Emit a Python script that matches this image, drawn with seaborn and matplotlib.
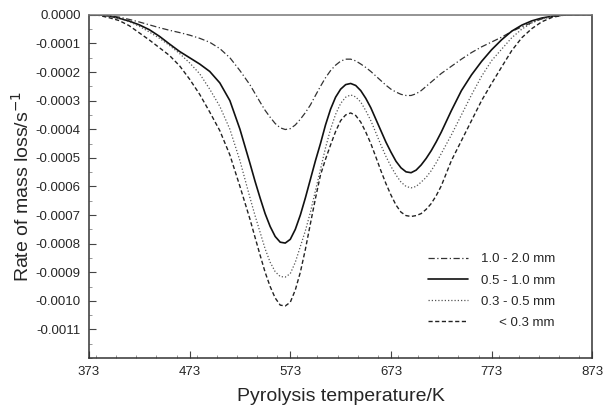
import numpy as np
import pandas as pd
import matplotlib
matplotlib.use("Agg")
import matplotlib.pyplot as plt
import seaborn as sns
from matplotlib.ticker import MultipleLocator, FuncFormatter

# ---- data (rate values in units of 1e-4 s^-1) ----
temperature = [373, 383, 393, 403, 413, 423, 433, 443, 453, 463,
               473, 483, 493, 503, 513, 523,
               533, 538, 543, 548, 553, 558, 563, 568, 573, 578,
               583, 588, 593, 598, 603, 608, 613, 618, 623, 628,
               633, 638, 643, 648, 653, 658, 663, 668, 673, 678,
               683, 688, 693, 698, 703, 708, 713, 718, 723,
               733, 743, 753, 763, 773, 783, 793, 803, 813, 823,
               833, 843, 853, 863, 873]

size_labels = ["1.0 - 2.0 mm", "0.5 - 1.0 mm", "0.3 - 0.5 mm", "< 0.3 mm"]

rate_1_0_2_0 = [0, 0, -0.03, -0.08, -0.16, -0.25, -0.35, -0.45, -0.54, -0.62,
                -0.71, -0.82, -0.96, -1.18, -1.50, -1.95,
                -2.45, -2.75, -3.05, -3.34, -3.58, -3.80, -3.95, -4.01, -3.98, -3.85,
                -3.65, -3.42, -3.15, -2.82, -2.50, -2.20, -1.95, -1.76, -1.62, -1.55,
                -1.55, -1.61, -1.72, -1.84, -1.98, -2.14, -2.30, -2.46, -2.60, -2.70,
                -2.78, -2.82, -2.82, -2.76, -2.65, -2.50, -2.35, -2.20, -2.05,
                -1.80, -1.55, -1.32, -1.12, -0.95, -0.78, -0.58, -0.42, -0.27, -0.14,
                -0.06, -0.01, 0, 0, 0]

rate_0_5_1_0 = [0, 0, -0.04, -0.12, -0.22, -0.35, -0.52, -0.75, -1.02, -1.28,
                -1.50, -1.72, -1.98, -2.38, -3.00, -4.00,
                -5.20, -5.82, -6.40, -6.95, -7.40, -7.75, -7.95, -7.98, -7.85, -7.50,
                -7.00, -6.40, -5.75, -5.10, -4.50, -3.85, -3.30, -2.88, -2.60, -2.44,
                -2.40, -2.47, -2.65, -2.92, -3.25, -3.65, -4.05, -4.45, -4.80, -5.12,
                -5.35, -5.49, -5.52, -5.43, -5.25, -5.02, -4.75, -4.44, -4.10,
                -3.35, -2.65, -2.10, -1.63, -1.22, -0.87, -0.57, -0.36, -0.21, -0.11,
                -0.05, -0.01, 0, 0, 0]

rate_0_3_0_5 = [0, 0, -0.05, -0.13, -0.24, -0.40, -0.60, -0.82, -1.07, -1.35,
                -1.68, -2.06, -2.60, -3.20, -4.00, -5.10,
                -6.40, -7.02, -7.60, -8.18, -8.65, -8.98, -9.15, -9.17, -9.05, -8.65,
                -8.10, -7.55, -6.90, -6.15, -5.40, -4.65, -4.00, -3.48, -3.10, -2.88,
                -2.80, -2.87, -3.05, -3.35, -3.70, -4.12, -4.55, -4.95, -5.30, -5.60,
                -5.85, -6.00, -6.05, -6.00, -5.85, -5.68, -5.45, -5.17, -4.85,
                -4.20, -3.50, -2.80, -2.15, -1.60, -1.20, -0.80, -0.50, -0.28, -0.14,
                -0.06, -0.02, 0, 0, 0]

rate_lt_0_3 = [0, -0.02, -0.10, -0.20, -0.38, -0.63, -0.88, -1.15, -1.42, -1.78,
               -2.25, -2.78, -3.40, -4.05, -4.90, -6.00,
               -7.15, -7.78, -8.40, -9.00, -9.50, -9.90, -10.15, -10.18, -10.05, -9.62,
               -9.00, -8.20, -7.30, -6.42, -5.60, -5.05, -4.55, -4.08, -3.70, -3.50,
               -3.43, -3.52, -3.75, -4.10, -4.50, -4.97, -5.45, -5.90, -6.30, -6.65,
               -6.90, -7.02, -7.05, -7.02, -6.95, -6.80, -6.60, -6.32, -5.98,
               -5.10, -4.40, -3.70, -3.00, -2.40, -1.82, -1.25, -0.80, -0.48, -0.24,
               -0.09, -0.02, 0, 0, 0]

x_ticks = [373, 473, 573, 673, 773, 873]

# ---- long-form table ----
series = [rate_1_0_2_0, rate_0_5_1_0, rate_0_3_0_5, rate_lt_0_3]
frames = []
for lab, vals in zip(size_labels, series):
    frames.append(pd.DataFrame({"T": temperature,
                                "rate": np.array(vals) * 1e-4,
                                "size": lab}))
df = pd.concat(frames, ignore_index=True)

sns.set_style("ticks")
plt.rcParams["font.family"] = ["Liberation Sans", "DejaVu Sans"]

fig = plt.figure(figsize=(6.05, 4.12), dpi=100)
ax = fig.add_axes([0.147, 0.131, 0.832, 0.833])

palette = {size_labels[0]: "#333333", size_labels[1]: "#111111",
           size_labels[2]: "#555555", size_labels[3]: "#222222"}
dashes = {size_labels[0]: (5, 2, 1, 2),
          size_labels[1]: "",
          size_labels[2]: (1, 1.6),
          size_labels[3]: (3, 1.8)}
widths = {size_labels[0]: 0.9, size_labels[1]: 1.2,
          size_labels[2]: 0.9, size_labels[3]: 1.0}

sns.lineplot(data=df, x="T", y="rate", hue="size", style="size",
             palette=palette, dashes=dashes, hue_order=size_labels,
             style_order=size_labels, ax=ax, legend=True, sort=False)

for line, lab in zip(ax.get_lines(), size_labels):
    line.set_linewidth(widths[lab])

ax.set_xlim(373, 873)
ax.set_ylim(-0.0012, 0)
ax.set_xticks(x_ticks)
ax.xaxis.set_minor_locator(MultipleLocator(20))
ax.yaxis.set_minor_locator(MultipleLocator(0.00005))
ax.set_yticks([-0.0001 * i for i in range(12)])
ax.yaxis.set_major_formatter(FuncFormatter(lambda v, p: f"{v:.4f}" if abs(v) > 1e-9 else "0.0000"))

ax.tick_params(axis="both", which="major", direction="in", length=5,
               width=0.8, labelsize=9.5, pad=6, color="#444444")
ax.tick_params(axis="both", which="minor", direction="in", length=2.5,
               width=0.6, color="#888888")

for s in ax.spines.values():
    s.set_color("#333333")
    s.set_linewidth(1.1)
ax.spines["top"].set_color("#777777")

ax.set_xlabel("Pyrolysis temperature/K", fontsize=14, labelpad=7)
ax.set_ylabel("Rate of mass loss/s$^{-1}$", fontsize=14, labelpad=2)

handles, labels = ax.get_legend_handles_labels()
disp = {size_labels[0]: "1.0 - 2.0 mm", size_labels[1]: "0.5 - 1.0 mm",
        size_labels[2]: "0.3 - 0.5 mm", size_labels[3]: "     < 0.3 mm"}
pairs = [(h, disp[l]) for h, l in zip(handles, labels) if l in disp]
leg = ax.legend([p[0] for p in pairs], [p[1] for p in pairs],
                loc="lower right", bbox_to_anchor=(0.95, 0.05),
                frameon=False, fontsize=9.5, handlelength=3.0,
                handletextpad=1.0, labelspacing=0.68)
for h, lab in zip(leg.legend_handles, size_labels):
    h.set_linewidth(widths[lab])

fig.savefig("out.png", dpi=100)
